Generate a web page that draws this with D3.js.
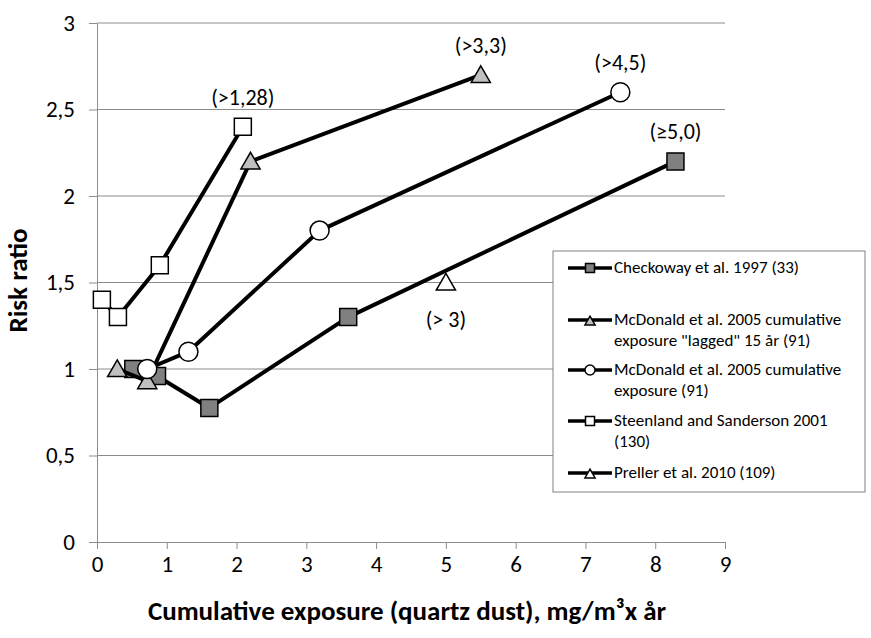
<!DOCTYPE html>
<html>
<head>
<meta charset="utf-8">
<script src="https://cdn.jsdelivr.net/npm/d3@7"></script>
<style>
  body { margin: 0; background: #fff; }
  svg { font-family: Calibri, Carlito, Lato, sans-serif; }
</style>
</head>
<body>
<div id="chart"></div>
<script>
// values
const checkoway_x = [0.52, 0.86, 1.61, 3.6, 8.29]
const checkoway_y = [1.0, 0.96, 0.775, 1.3, 2.2]

const lagged_x = [0.29, 0.72, 2.2, 5.5]
const lagged_y = [1.0, 0.93, 2.2, 2.7]

const cumul_x = [0.72, 1.31, 3.19, 7.5]
const cumul_y = [1.0, 1.1, 1.8, 2.6]

const steenland_x = [0.07, 0.3, 0.9, 2.09]
const steenland_y = [1.4, 1.3, 1.6, 2.4]

const preller_x = [5.0]
const preller_y = [1.5]

const series_names = [
    ['Checkoway et al. 1997 (33)'],
    ['McDonald et al. 2005 cumulative', 'exposure "lagged" 15 år (91)'],
    ['McDonald et al. 2005 cumulative', 'exposure (91)'],
    ['Steenland and Sanderson 2001', '(130)'],
    ['Preller et al. 2010 (109)'],
]

// annotation text next to points: [series index, point index, text, above?]
const notes = [
    [3, 3, '(>1,28)', true],
    [1, 3, '(>3,3)', true],
    [2, 3, '(>4,5)', true],
    [0, 4, '(≥5,0)', true],
    [4, 0, '(> 3)', false],
]

const x_ticks = [0, 1, 2, 3, 4, 5, 6, 7, 8, 9]
const y_ticks = [0, 0.5, 1, 1.5, 2, 2.5, 3]

let margin = {top: 23, right: 146, bottom: 96, left: 97},
    width = 871 - margin.left - margin.right,
    height = 638 - margin.top - margin.bottom;

let series = [
    {x: checkoway_x, y: checkoway_y, shape: 'square', fill: '#808080'},
    {x: lagged_x, y: lagged_y, shape: 'triangle', fill: '#c0c0c0'},
    {x: cumul_x, y: cumul_y, shape: 'circle', fill: '#ffffff'},
    {x: steenland_x, y: steenland_y, shape: 'square', fill: '#ffffff'},
    {x: preller_x, y: preller_y, shape: 'triangle', fill: '#ffffff'},
]
series.forEach((s, i) => {
    s.name = series_names[i]
    s.points = s.x.map((v, j) => ({x: v, y: s.y[j]}))
})

let x_scale = d3.scaleLinear().domain([0, 9]).range([0, width])
let y_scale = d3.scaleLinear().domain([0, 3]).range([height, 0])

let svg = d3.select('#chart').append('svg')
    .attr('width', 871)
    .attr('height', 638)
    .append('g')
    .attr('transform', `translate(${margin.left},${margin.top})`)

// grid lines
svg.append('g')
    .selectAll('line')
    .data(y_ticks.filter(d => d > 0))
    .enter().append('line')
    .attr('x1', 0)
    .attr('x2', width)
    .attr('y1', d => y_scale(d))
    .attr('y2', d => y_scale(d))
    .attr('stroke', '#8c8c8c')
    .attr('stroke-width', 1)

// axes
let fmt = d => String(d).replace('.', ',')

let x_axis = svg.append('g')
    .attr('transform', `translate(0,${height})`)
    .call(d3.axisBottom(x_scale).tickValues(x_ticks).tickSize(7).tickSizeOuter(0).tickPadding(7).tickFormat(fmt))

let y_axis = svg.append('g')
    .call(d3.axisLeft(y_scale).tickValues(y_ticks).tickSize(8).tickSizeOuter(0).tickPadding(14).tickFormat(fmt))

;[x_axis, y_axis].forEach(a => {
    a.select('.domain').attr('stroke', '#8c8c8c')
    a.selectAll('.tick line').attr('stroke', '#8c8c8c')
    a.selectAll('.tick text').attr('fill', '#000').style('font-size', '23px')
        .style('font-family', 'Calibri, Carlito, Lato, sans-serif')
})

svg.append('text')
    .attr('x', width / 2 - 4)
    .attr('y', height + 78)
    .style('text-anchor', 'middle')
    .style('font-weight', 'bold')
    .style('font-size', '27px')
    .text('Cumulative exposure (quartz dust), mg/m³x år')

svg.append('text')
    .style('text-anchor', 'middle')
    .style('font-weight', 'bold')
    .style('font-size', '27px')
    .attr('transform', `translate(-70, ${height / 2 - 2}) rotate(-90)`)
    .text('Risk ratio')

function marker(g, shape, fill, size) {
    if (shape === 'circle') {
        g.append('circle').attr('r', size / 2)
            .attr('fill', fill).attr('stroke', '#000').attr('stroke-width', 1.5)
    } else {
        let sym = shape === 'square' ? d3.symbolSquare : d3.symbolTriangle
        let area = shape === 'square' ? size * size : size * size * 0.55
        g.append('path')
            .attr('d', d3.symbol().type(sym).size(area)())
            .attr('transform', shape === 'triangle' ? 'translate(0,2)' : null)
            .attr('fill', fill).attr('stroke', '#000').attr('stroke-width', 1.5)
    }
}

let line = d3.line().x(d => x_scale(d.x)).y(d => y_scale(d.y))

series.forEach(s => {
    let g = svg.append('g')
    g.append('path')
        .datum(s.points)
        .attr('d', line)
        .attr('fill', 'none')
        .attr('stroke', '#000')
        .attr('stroke-width', 4)
        .attr('stroke-linejoin', 'round')
    s.points.forEach(p => {
        let m = g.append('g').attr('transform', `translate(${x_scale(p.x)},${y_scale(p.y)})`)
        marker(m, s.shape, s.fill, s.shape === 'circle' ? 19 : 17)
    })
})

// annotations
notes.forEach(n => {
    let p = series[n[0]].points[n[1]]
    svg.append('text')
        .attr('x', x_scale(p.x))
        .attr('y', y_scale(p.y) + (n[3] ? -22 : 44))
        .style('text-anchor', 'middle')
        .style('font-size', '22px')
        .text(n[2])
})

// legend
let legend = svg.append('g').attr('transform', `translate(${553 - margin.left},${251 - margin.top})`)
legend.append('rect')
    .attr('width', 312)
    .attr('height', 241)
    .attr('fill', '#fff')
    .attr('stroke', '#808080')
    .attr('stroke-width', 1)

let legend_y = [17, 69, 119, 170, 222]

series.forEach((s, i) => {
    let item = legend.append('g').attr('transform', `translate(0,${legend_y[i]})`)
    item.append('line')
        .attr('x1', 15).attr('x2', 59)
        .attr('stroke', '#000').attr('stroke-width', 3.5)
    let m = item.append('g').attr('transform', 'translate(37,0)')
    marker(m, s.shape, s.fill, s.shape === 'circle' ? 10 : 9)
    s.name.forEach((t, k) => {
        item.append('text')
            .attr('x', 61)
            .attr('y', 5 + k * 20.5)
            .style('font-size', '17px')
            .text(t)
    })
})
</script>
</body>
</html>
